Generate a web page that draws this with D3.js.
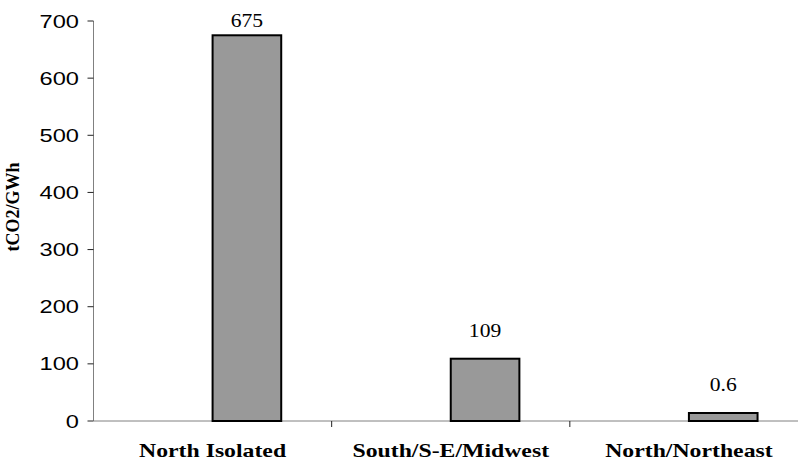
<!DOCTYPE html>
<html><head><meta charset="utf-8">
<script src="https://cdn.jsdelivr.net/npm/d3@7"></script>
<style>body{margin:0;background:#fff}svg{display:block}</style>
</head><body>
<svg id="c" width="798" height="461"></svg>
<script>
const categories = ["North Isolated", "South/S-E/Midwest", "North/Northeast"];
const values = [675, 109, 14];
const valueLabels = ["675", "109", "0.6"];
const yTicks = [0, 100, 200, 300, 400, 500, 600, 700];
const yTitle = "tCO2/GWh";

(function () {
const svg = d3.select("#c");
const mL = 93.5, mR = 808, mT = 21, mB = 421;
const x = d3.scaleBand().domain(categories).range([mL, mR]);
const x1 = d3.scaleBand().domain(["empty", "value"]).range([0, x.bandwidth()]).paddingOuter(0.735).paddingInner(0);
const y = d3.scaleLinear().domain([0, 700]).range([mB, mT]);
const sx = 1.35;

// y axis
svg.append("line").attr("x1", mL).attr("x2", mL).attr("y1", mT).attr("y2", mB).attr("stroke", "#808080");
yTicks.forEach(t => {
  svg.append("line").attr("x1", mL - 6).attr("x2", mL).attr("y1", y(t)).attr("y2", y(t)).attr("stroke", "#222");
  svg.append("text").attr("transform", `translate(79,${y(t) + 6.5}) scale(${sx},1)`)
    .attr("text-anchor", "end").attr("font-family", "Liberation Sans, Arial, sans-serif")
    .attr("font-size", 17.5).attr("fill", "#000").text(t);
});
// x axis
svg.append("line").attr("x1", mL).attr("x2", mR).attr("y1", mB).attr("y2", mB).attr("stroke", "#808080");
categories.slice(1).forEach(c => {
  svg.append("line").attr("x1", x(c)).attr("x2", x(c)).attr("y1", mB).attr("y2", mB + 6).attr("stroke", "#222");
});
// bars
categories.forEach((c, i) => {
  const bx = x(c) + x1("value");
  svg.append("rect").attr("x", bx).attr("y", y(values[i])).attr("width", x1.bandwidth()).attr("height", mB - y(values[i]))
    .attr("fill", "#999999").attr("stroke", "#000").attr("stroke-width", 2);
  const ly = Math.max(27, y(values[i]) - 22);
  svg.append("text").attr("transform", `translate(${bx + x1.bandwidth() / 2},${ly}) scale(1.2,1)`)
    .attr("text-anchor", "middle").attr("font-family", "Liberation Serif, Times New Roman, serif")
    .attr("font-size", 18).attr("fill", "#000").text(valueLabels[i]);
  svg.append("text").attr("transform", `translate(${x(c) + x.bandwidth() / 2},457) scale(1.25,1)`)
    .attr("text-anchor", "middle").attr("font-family", "Liberation Serif, Times New Roman, serif")
    .attr("font-weight", "bold").attr("font-size", 19).attr("fill", "#000").text(c);
});
// y title
svg.append("text").attr("transform", `translate(19,207) rotate(-90)`)
  .attr("text-anchor", "middle").attr("font-family", "Liberation Serif, Times New Roman, serif")
  .attr("font-weight", "bold").attr("font-size", 18).attr("fill", "#000").text(yTitle);
})();
</script>
</body></html>
